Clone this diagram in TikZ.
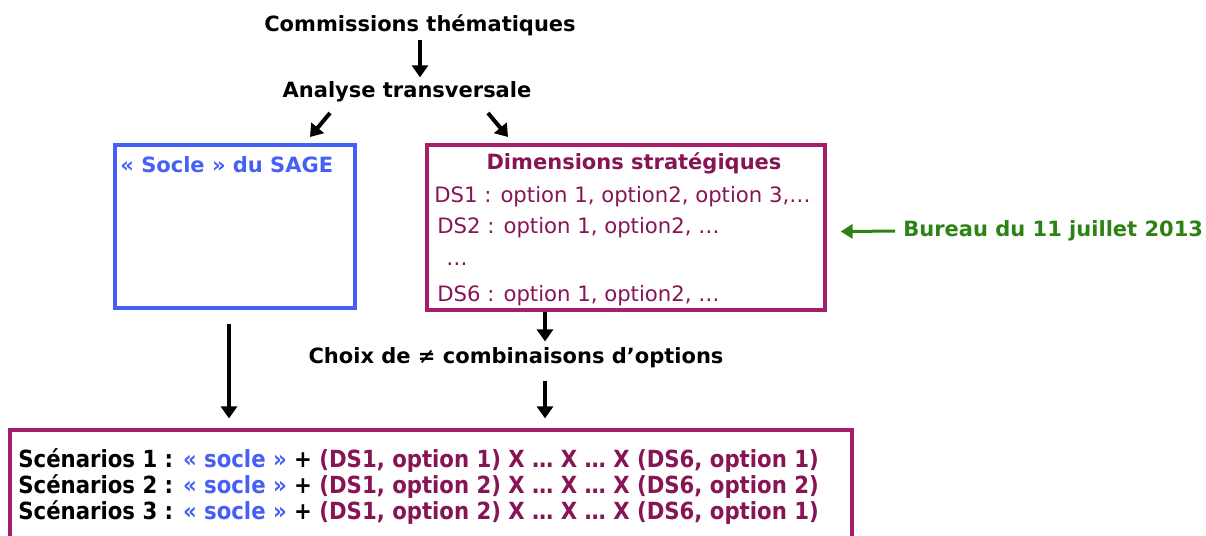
\documentclass[tikz,border=0pt]{standalone}
\usepackage{fontspec}
\setmainfont{DejaVu Sans}
\newfontfamily\narrowfont[FakeStretch=0.9]{DejaVu Sans}
\usetikzlibrary{arrows.meta,calc}
\definecolor{soclecol}{RGB}{70,95,245}
\definecolor{dimcol}{RGB}{165,30,105}
\definecolor{dimtext}{RGB}{135,20,85}
\definecolor{bureaucol}{RGB}{45,130,20}
\tikzset{flow/.style={-{Triangle[length=6pt,width=8pt]},line width=2pt},
 title/.style={font=\bfseries\fontsize{10.5}{12}\selectfont},
 dsline/.style={font=\fontsize{10.6}{12}\selectfont,text=dimtext,anchor=west},
 scen/.style={font=\narrowfont\bfseries\fontsize{11.8}{13}\selectfont,anchor=west},
 box/.style={draw,line width=1.6pt},
 every node/.style={inner sep=0pt}}

\begin{document}
\begin{tikzpicture}[x=0.5pt,y=-0.5pt]
\useasboundingbox (0,0) rectangle (1206,536);
% top of the flow
\node[title] (comm) at (420,25) {Commissions thématiques};
\node[title] (ana) at (407,92) {Analyse transversale};
\draw[flow,shorten <=2pt,shorten >=2pt] (comm.south) -- (comm.south |- ana.north);
% the two boxes
\node[box,soclecol,minimum width=120pt,minimum height=81.5pt] (socle) at (235,226.5) {};
\node[title,text=soclecol,anchor=west] (socletxt) at (120,165) {«~Socle~» du SAGE};
\node[box,dimcol,minimum width=199pt,minimum height=82.5pt] (dims) at (626,227.5) {};
\node[title,text=dimtext] (dimtitle) at (634,163) {Dimensions stratégiques};
\node[dsline] (ds1) at (434,197) {DS1 : option 1, option2, option 3,…};
\node[dsline] (ds2) at (437,228) {DS2 : option 1, option2, …};
\node[dsline] (dsdots) at (446,264) {…};
\node[dsline] (ds6) at (437,296) {DS6 : option 1, option2, …};
\coordinate (a1) at (330,113);
\coordinate (a2) at (488,113);
\draw[flow] (a1) -- ++(-20,24);
\draw[flow] (a2) -- ++(20,24);
% bureau
\node[title,text=bureaucol,anchor=west] (bureau) at (903,231) {Bureau du 11 juillet 2013};
\draw[flow,bureaucol,line width=1.5pt,shorten <=4pt,-{Triangle[length=6pt,width=7pt]}] (bureau.west) -- ($(dims.east)+(14,4)$);
% choice and scenarios
\node[title] (choix) at (516,358) {Choix de ≠ combinaisons d’options};
\node[box,dimcol,minimum width=421pt,minimum height=60pt] (scenbox) at (431,490) {};
\foreach \n/\a/\b in {1/1/1,2/2/2,3/2/1}
  \node[scen] (scen\n) at (18,{435+26*\n}) {Scénarios \n~: \textcolor{soclecol}{«~socle~»} + \textcolor{dimtext}{(DS1, option \a) X … X … X (DS6, option \b)}};
\draw[flow,shorten <=7pt,shorten >=5pt] ([xshift=-3pt]socle.south) -- ([xshift=-3pt]socle.south |- scenbox.north);
\draw[flow,shorten >=3pt] ([xshift=-40.5pt]dims.south) -- ([xshift=-40.5pt]dims.south |- choix.north);
\draw[flow,shorten <=6pt,shorten >=5pt] ([xshift=-40.5pt]dims.south |- choix.south) -- ([xshift=-40.5pt]dims.south |- scenbox.north);
\end{tikzpicture}
\end{document}
